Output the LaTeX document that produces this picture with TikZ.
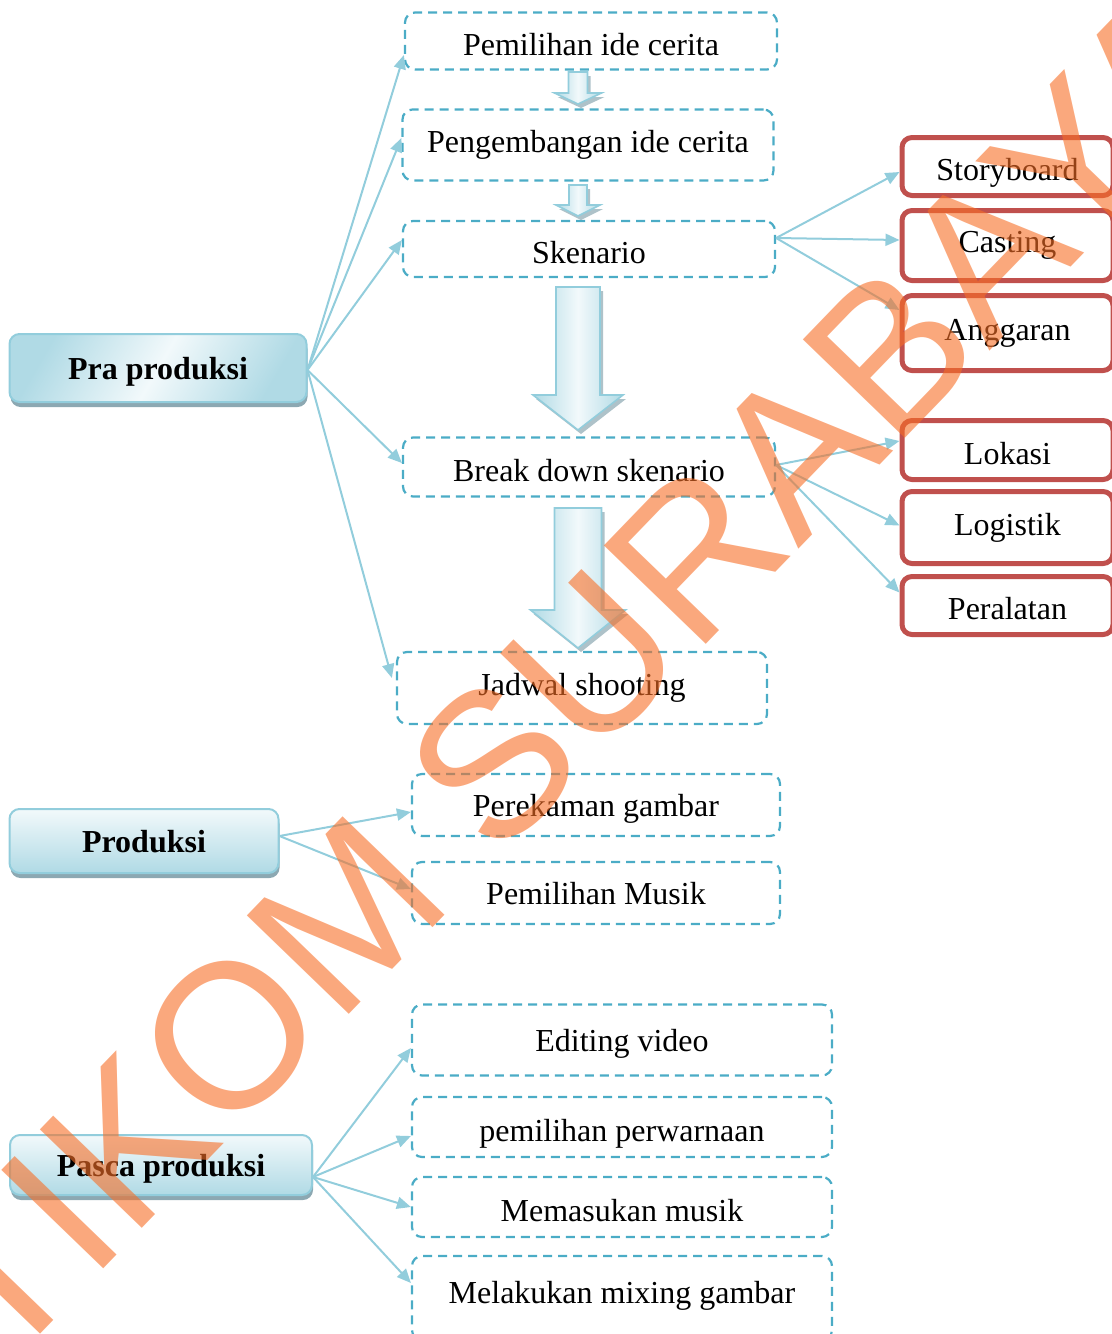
\documentclass[tikz,border=0pt]{standalone}
\usepackage{fontspec}
\setmainfont{Liberation Serif}
\newfontfamily\wmfont{Liberation Sans}
\usetikzlibrary{arrows.meta,shadows}
\definecolor{LineClr}{RGB}{146,205,220}
\definecolor{DashClr}{RGB}{75,172,198}
\definecolor{RedClr}{RGB}{192,80,77}
\definecolor{BoxTop}{RGB}{242,249,251}
\definecolor{BoxBot}{RGB}{176,218,229}
\definecolor{ShadowClr}{RGB}{140,168,178}
\definecolor{WaterClr}{RGB}{247,110,38}

\begin{document}
\begin{tikzpicture}[x=0.5pt,y=-0.5pt,
  font=\fontsize{16}{19}\selectfont,
  dashbox/.style={draw=DashClr,dash pattern=on 4.5pt off 3pt,line width=1.1pt,rounded corners=5pt,inner sep=0pt},
  redbox/.style={draw=RedClr,line width=2.5pt,rounded corners=5pt,fill=white,inner sep=0pt,minimum width=105.5pt},
  phasebox/.style={draw=LineClr,line width=1pt,rounded corners=5pt,top color=BoxTop,bottom color=BoxBot,
    font=\fontsize{16}{19}\selectfont\bfseries,text height=11pt,text depth=0pt,
    drop shadow={shadow xshift=0.5pt,shadow yshift=-2.5pt,fill=ShadowClr,opacity=1}},
  low/.style={text height=14pt,text depth=0pt},
  mid/.style={text height=11pt,text depth=0pt},
  link/.style={draw=LineClr,line width=1pt,-{Triangle[length=7pt,width=6pt]}},
  blockarrow/.style={draw=LineClr,line width=0.8pt,left color=BoxBot,right color=BoxBot,middle color=BoxTop}
]
\clip (0,0) rectangle (1112,1334);

% fase
\node[phasebox,minimum width=148.5pt,minimum height=34pt,left color=BoxBot,right color=BoxBot,middle color=BoxTop,shading angle=60] (pra) at (158,368) {Pra produksi};
\node[phasebox,minimum width=134.5pt,minimum height=32pt] (prod) at (144,841) {Produksi};
\node[phasebox,minimum width=151pt,minimum height=30pt] (pasca) at (161,1165) {Pasca produksi};

% pra produksi
\node[dashbox,low,minimum width=186pt,minimum height=28.5pt] (ide) at (591,41) {Pemilihan ide cerita};
\node[dashbox,minimum width=185.5pt,minimum height=35.5pt] (kembang) at (588,145) {Pengembangan ide cerita};
\node[dashbox,low,minimum width=186pt,minimum height=28pt] (skenario) at (589,249) {Skenario};
\node[dashbox,low,minimum width=186pt,minimum height=29.5pt] (breakdown) at (589,467) {Break down skenario};
\node[dashbox,minimum width=185pt,minimum height=36pt] (jadwal) at (582,688) {Jadwal shooting};

\node[redbox,low,minimum height=29pt] (story) at (1007.5,166.5) {Storyboard};
\node[redbox,minimum height=35pt] (casting) at (1007.5,245.5) {Casting};
\node[redbox,minimum height=37.5pt] (anggaran) at (1007.5,333) {Anggaran};
\node[redbox,low,minimum height=29.5pt] (lokasi) at (1007.5,450) {Lokasi};
\node[redbox,minimum height=36pt] (logistik) at (1007.5,527.5) {Logistik};
\node[redbox,low,minimum height=29pt] (alat) at (1007.5,605.5) {Peralatan};

% produksi
\node[dashbox,mid,minimum width=184pt,minimum height=31pt] (rekam) at (596,805) {Perekaman gambar};
\node[dashbox,mid,minimum width=184pt,minimum height=31pt] (musik) at (596,893) {Pemilihan Musik};

% pasca produksi
\node[dashbox,mid,minimum width=210pt,minimum height=35.5pt] (edit) at (622,1040) {Editing video};
\node[dashbox,low,minimum width=210pt,minimum height=30pt] (warna) at (622,1127) {pemilihan perwarnaan};
\node[dashbox,low,minimum width=210pt,minimum height=30pt] (masuk) at (622,1207) {Memasukan musik};
\node[dashbox,minimum width=210pt,minimum height=42pt] (mixing) at (622,1298) {\raisebox{6pt}{Melakukan mixing gambar}};

% panah blok
\foreach \c/\t/\m/\b/\s/\h in {578/72/93/104/9.5/23.5, 578/185/205/216/9/22, 578/287/395/430/22/45, 578/508/610/648/23.5/47.5}{
  \fill[ShadowClr,opacity=0.7,shift={(3,4)}] ({\c-\s},\t) -- ({\c+\s},\t) -- ({\c+\s},\m) -- ({\c+\h},\m) -- (\c,\b) -- ({\c-\h},\m) -- ({\c-\s},\m) -- cycle;
  \path[blockarrow] ({\c-\s},\t) -- ({\c+\s},\t) -- ({\c+\s},\m) -- ({\c+\h},\m) -- (\c,\b) -- ({\c-\h},\m) -- ({\c-\s},\m) -- cycle;
}

% garis
\draw[link] ([yshift=-1pt]pra.east) -- ([yshift=-7pt]ide.west);
\draw[link] ([yshift=-1pt]pra.east) -- ([yshift=3.5pt]kembang.west);
\draw[link] ([yshift=-1pt]pra.east) -- ([yshift=4.5pt]skenario.west);
\draw[link] ([yshift=-1pt]pra.east) -- ([yshift=2pt]breakdown.west);
\draw[link] ([yshift=-1pt]pra.east) -- ([xshift=-2pt,yshift=5pt]jadwal.west);

\draw[link] ([yshift=5.5pt]skenario.east) -- ([yshift=-2.75pt]story.west);
\draw[link] ([yshift=5.5pt]skenario.east) -- ([yshift=2.75pt]casting.west);
\draw[link] ([yshift=5.5pt]skenario.east) -- ([yshift=11.5pt]anggaran.west);

\draw[link] ([yshift=1pt]breakdown.east) -- ([yshift=4.5pt]lokasi.west);
\draw[link] ([yshift=1pt]breakdown.east) -- ([yshift=1pt]logistik.west);
\draw[link] ([yshift=1pt]breakdown.east) -- ([yshift=6.5pt]alat.west);

\draw[link] ([yshift=2.5pt]prod.east) -- ([yshift=-3.5pt]rekam.west);
\draw[link] ([yshift=2.5pt]prod.east) -- ([yshift=2pt]musik.west);

\draw[link] ([yshift=-6pt]pasca.east) -- ([yshift=-4pt]edit.west);
\draw[link] ([yshift=-6pt]pasca.east) -- ([yshift=-4.5pt]warna.west);
\draw[link] ([yshift=-6pt]pasca.east) -- (masuk.west);
\draw[link] ([yshift=-6pt]pasca.east) -- ([yshift=7.5pt]mixing.west);

% watermark
\node[rotate=46,text=WaterClr,opacity=0.6,font=\wmfont\fontsize{103}{103}\selectfont] (wm) at (530,725) {STIKOM SURABAYA};

\end{tikzpicture}
\end{document}
